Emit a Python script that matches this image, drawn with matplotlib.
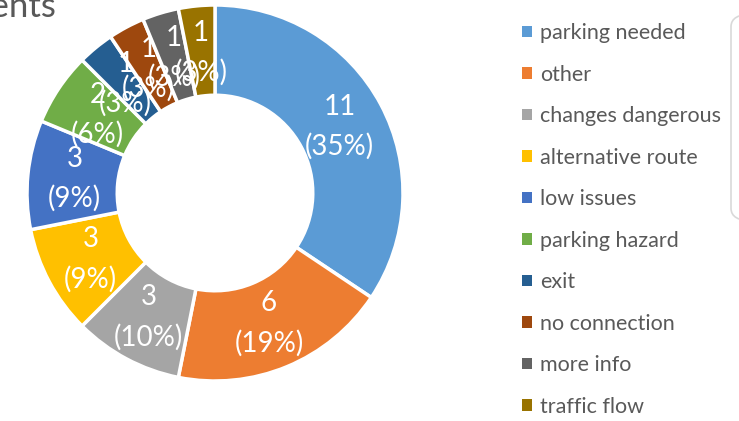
import matplotlib
matplotlib.use("Agg")
import matplotlib.pyplot as plt
from matplotlib.patches import Patch, FancyBboxPatch
import numpy as np

plt.rcParams['font.family'] = ['Lato', 'DejaVu Sans']

categories = ['parking needed', 'other', 'changes dangerous', 'alternative route',
              'low issues', 'parking hazard', 'exit', 'no connection',
              'more info', 'traffic flow']
counts = [11, 6, 3, 3, 3, 2, 1, 1, 1, 1]
percents = [35, 19, 10, 9, 9, 6, 3, 3, 3, 3]
colors = ['#5B9BD5', '#ED7D31', '#A5A5A5', '#FFC000', '#4472C4',
          '#70AD47', '#255E91', '#9E480E', '#636363', '#997300']

W, H = 739, 421
fig = plt.figure(figsize=(W / 100, H / 100), dpi=100)

cx, cy, R = 215, 193, 188
ax = fig.add_axes([(cx - R) / W, (H - cy - R) / H, 2 * R / W, 2 * R / H])
wedges, _ = ax.pie(counts, colors=colors, startangle=90, counterclock=False,
                   radius=1, wedgeprops=dict(width=0.48, edgecolor='white', linewidth=2.5))
ax.set_xlim(-1, 1)
ax.set_ylim(-1, 1)
ax.set_aspect('auto')
ax.axis('off')

for w, n, p in zip(wedges, counts, percents):
    ang = np.deg2rad((w.theta1 + w.theta2) / 2)
    ax.text(0.75 * np.cos(ang), 0.75 * np.sin(ang), f'{n}\n({p}%)',
            ha='center', va='center', color='white', fontsize=20, linespacing=1.6)

handles = [Patch(facecolor=c, edgecolor='none') for c in colors]
fig.legend(handles, categories, loc='upper left', bbox_to_anchor=(522 / W, 1 - 23 / H),
           frameon=False, fontsize=15.5, labelcolor='#595959',
           handlelength=0.45, handleheight=0.45, handletextpad=0.37, labelspacing=1.0,
           borderaxespad=0, borderpad=0)

fig.text(56 / W, 1 - 17 / H, 'Comments', ha='right', va='baseline',
         fontsize=25, color='#595959')

box = FancyBboxPatch((731 / W, 1 - 221 / H), 60 / W, 207 / H,
                     boxstyle='round,pad=0,rounding_size=0.03',
                     transform=fig.transFigure, facecolor='white',
                     edgecolor='#D9D9D9', linewidth=1.2)
fig.patches.append(box)

fig.savefig('out.png', dpi=100)
